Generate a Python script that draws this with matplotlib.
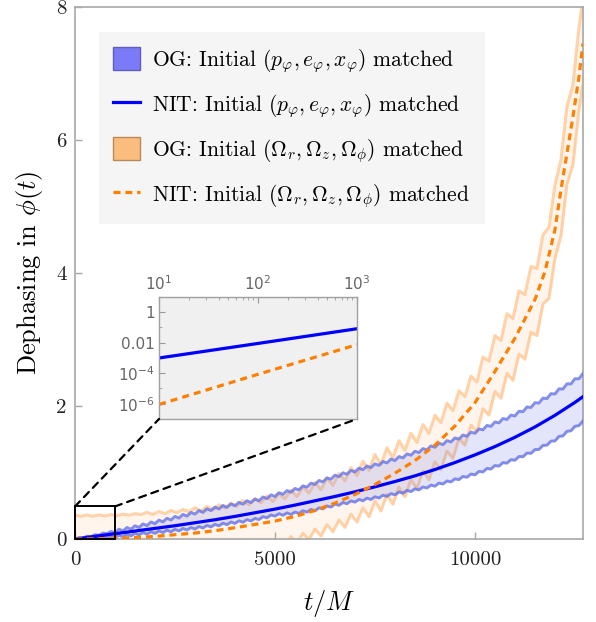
import numpy as np
import matplotlib
matplotlib.use("Agg")
import matplotlib.pyplot as plt
from matplotlib.patches import Patch, Rectangle, ConnectionPatch
from matplotlib.lines import Line2D

# ---------------- data ----------------
# NIT curves
t_blue_nit = [0, 500, 1000, 1500, 2000, 2500, 3000, 3500, 4000, 4500, 5000, 5500,
              6000, 6500, 7000, 7500, 8000, 8500, 9000, 9500, 10000, 10500, 11000,
              11500, 12000, 12500, 12700]
blue_nit = [0, 0.04, 0.08, 0.12, 0.16, 0.20, 0.245, 0.29, 0.34, 0.395, 0.45, 0.51,
            0.575, 0.64, 0.71, 0.785, 0.865, 0.95, 1.045, 1.15, 1.265, 1.39, 1.53,
            1.685, 1.86, 2.055, 2.14]

t_orange_nit = [0, 500, 1000, 1500, 2000, 2500, 3000, 3500, 4000, 4500, 5000, 5500,
                6000, 6500, 7000, 7500, 8000, 8500, 9000, 9500, 10000, 10500, 11000,
                11500, 11750, 12000, 12150, 12300, 12450, 12600, 12700]
orange_nit = [0, 0.003, 0.01, 0.022, 0.04, 0.065, 0.09, 0.125, 0.17, 0.22, 0.27, 0.34,
              0.43, 0.54, 0.67, 0.82, 0.99, 1.18, 1.41, 1.70, 2.05, 2.52, 3.02,
              3.60, 4.02, 4.65, 5.25, 5.80, 6.35, 6.95, 7.45]

# OG bands (sampled every 100 M for blue, every 150 M for orange)
t_blue_band = np.arange(0, 12701, 100)
blue_og_upper = [
    0, 0.021, 0.012, 0.043, 0.034, 0.065, 0.057, 0.089, 0.081, 0.113,
    0.095, 0.148, 0.121, 0.174, 0.147, 0.200, 0.174, 0.228, 0.202, 0.256,
    0.230, 0.284, 0.258, 0.312, 0.286, 0.340, 0.315, 0.370, 0.345, 0.400,
    0.375, 0.428, 0.401, 0.454, 0.427, 0.480, 0.452, 0.504, 0.476, 0.528,
    0.500, 0.552, 0.524, 0.576, 0.548, 0.600, 0.576, 0.632, 0.608, 0.664,
    0.640, 0.696, 0.672, 0.728, 0.704, 0.760, 0.740, 0.800, 0.780, 0.840,
    0.820, 0.880, 0.860, 0.920, 0.900, 0.960, 0.938, 0.996, 0.974, 1.032,
    1.010, 1.066, 1.042, 1.098, 1.074, 1.130, 1.108, 1.166, 1.144, 1.202,
    1.180, 1.240, 1.220, 1.280, 1.260, 1.320, 1.300, 1.360, 1.340, 1.400,
    1.380, 1.440, 1.420, 1.480, 1.460, 1.520, 1.502, 1.564, 1.546, 1.608,
    1.590, 1.656, 1.642, 1.708, 1.694, 1.760, 1.746, 1.812, 1.798, 1.864,
    1.850, 1.922, 1.914, 1.986, 1.978, 2.050, 2.044, 2.118, 2.112, 2.186,
    2.180, 2.258, 2.256, 2.334, 2.332, 2.410, 2.410, 2.490]
blue_og_lower = [
    0, 0.008, 0.001, 0.014, 0.007, 0.025, 0.009, 0.033, 0.017, 0.041,
    0.020, 0.057, 0.034, 0.071, 0.048, 0.085, 0.061, 0.097, 0.073, 0.109,
    0.085, 0.121, 0.097, 0.133, 0.109, 0.145, 0.122, 0.159, 0.136, 0.173,
    0.150, 0.188, 0.166, 0.204, 0.182, 0.220, 0.199, 0.238, 0.217, 0.256,
    0.235, 0.274, 0.253, 0.292, 0.271, 0.310, 0.293, 0.336, 0.319, 0.362,
    0.345, 0.381, 0.357, 0.393, 0.369, 0.405, 0.385, 0.425, 0.405, 0.445,
    0.425, 0.469, 0.453, 0.497, 0.481, 0.525, 0.507, 0.549, 0.531, 0.573,
    0.555, 0.595, 0.575, 0.615, 0.595, 0.635, 0.617, 0.659, 0.641, 0.683,
    0.665, 0.707, 0.689, 0.731, 0.713, 0.755, 0.739, 0.783, 0.767, 0.811,
    0.795, 0.841, 0.827, 0.873, 0.859, 0.905, 0.893, 0.941, 0.929, 0.977,
    0.965, 1.017, 1.009, 1.061, 1.053, 1.105, 1.097, 1.149, 1.141, 1.193,
    1.185, 1.241, 1.237, 1.293, 1.289, 1.345, 1.347, 1.409, 1.411, 1.473,
    1.475, 1.543, 1.551, 1.619, 1.627, 1.695, 1.705, 1.775]

t_orange_band = np.arange(0, 12751, 150)
orange_og_upper = [
    0.360, 0.341, 0.362, 0.343, 0.364, 0.346, 0.369, 0.351, 0.375, 0.358,
    0.382, 0.367, 0.403, 0.368, 0.415, 0.382, 0.430, 0.397, 0.445, 0.412,
    0.470, 0.420, 0.491, 0.441, 0.514, 0.467, 0.541, 0.495, 0.580, 0.515,
    0.610, 0.545, 0.650, 0.565, 0.684, 0.605, 0.736, 0.639, 0.786, 0.693,
    0.850, 0.743, 0.916, 0.809, 0.986, 0.875, 1.074, 0.955, 1.170, 1.035,
    1.270, 1.121, 1.372, 1.223, 1.478, 1.335, 1.592, 1.453, 1.722, 1.591,
    1.860, 1.752, 2.044, 1.931, 2.230, 2.140, 2.450, 2.362, 2.738, 2.674,
    3.060, 2.985, 3.390, 3.315, 3.732, 3.675, 4.098, 4.069, 4.576, 4.687,
    5.320, 5.700, 6.505, 6.830, 7.690, 8.340]
orange_og_lower = [
    -0.340, -0.359, -0.338, -0.357, -0.336, -0.354, -0.331, -0.349, -0.325, -0.342,
    -0.318, -0.333, -0.297, -0.332, -0.285, -0.318, -0.270, -0.303, -0.255, -0.288,
    -0.230, -0.280, -0.209, -0.259, -0.186, -0.233, -0.159, -0.205, -0.120, -0.185,
    -0.090, -0.155, -0.050, -0.135, -0.016, -0.095, 0.036, -0.061, 0.086, -0.007,
    0.150, 0.043, 0.216, 0.109, 0.286, 0.175, 0.374, 0.255, 0.470, 0.335,
    0.570, 0.421, 0.672, 0.523, 0.778, 0.635, 0.892, 0.753, 1.022, 0.891,
    1.160, 1.042, 1.324, 1.211, 1.510, 1.410, 1.710, 1.612, 1.958, 1.864,
    2.220, 2.115, 2.490, 2.385, 2.780, 2.705, 3.110, 3.059, 3.536, 3.617,
    4.220, 4.560, 5.335, 5.630, 6.450, 7.020]

# inset (log-log, early times)
inset_t = [10, 100, 1000]
inset_blue = [1.0e-3, 9.0e-3, 8.3e-2]
inset_orange = [9.0e-7, 8.5e-5, 7.5e-3]

x_ticks = [0, 5000, 10000]
y_ticks = [0, 2, 4, 6, 8]
inset_xticks = [10, 100, 1000]
inset_xticklabels = [r'$10^{1}$', r'$10^{2}$', r'$10^{3}$']
inset_yticks = [1, 1e-2, 1e-4, 1e-6]
inset_yticklabels = ['1', '0.01', r'$10^{-4}$', r'$10^{-6}$']

labels = [r'OG: Initial $(p_\varphi, e_\varphi, x_\varphi)$ matched',
          r'NIT: Initial $(p_\varphi, e_\varphi, x_\varphi)$ matched',
          r'OG: Initial $(\Omega_r, \Omega_z, \Omega_\phi)$ matched',
          r'NIT: Initial $(\Omega_r, \Omega_z, \Omega_\phi)$ matched']

# ---------------- style ----------------
plt.rcParams['font.family'] = 'serif'
plt.rcParams['font.serif'] = ['cmr10', 'DejaVu Serif']
plt.rcParams['mathtext.fontset'] = 'cm'
plt.rcParams['axes.formatter.use_mathtext'] = True

BLUE = '#0000ff'
ORANGE = '#ff8000'
SPINE = '#a8a8a8'

fig = plt.figure(figsize=(5.96, 6.22), dpi=100)
ax = fig.add_axes([0.1258, 0.1334, 0.8523, 0.8553])

# orange OG band
ax.fill_between(t_orange_band, orange_og_lower, orange_og_upper,
                color='#ff8a1a', alpha=0.08, lw=0, zorder=1)
ax.plot(t_orange_band, orange_og_upper, color='#ffb066', alpha=0.55, lw=2.2, zorder=2)
ax.plot(t_orange_band, orange_og_lower, color='#ffb066', alpha=0.55, lw=2.2, zorder=2)
# blue OG band
ax.fill_between(t_blue_band, blue_og_lower, blue_og_upper,
                color='#6673e6', alpha=0.18, lw=0, zorder=3)
ax.plot(t_blue_band, blue_og_upper, color='#6673e6', alpha=0.8, lw=2.1, zorder=4)
ax.plot(t_blue_band, blue_og_lower, color='#6673e6', alpha=0.8, lw=2.1, zorder=4)
# NIT lines
ax.plot(t_blue_nit, blue_nit, color=BLUE, lw=2.3, zorder=6)
ax.plot(t_orange_nit, orange_nit, color=ORANGE, lw=2.3, dashes=(2.2, 1.5), zorder=7)

ax.set_xlim(0, 12700)
ax.set_ylim(0, 8)
ax.set_xticks(x_ticks, [str(v) for v in x_ticks])
ax.set_yticks(y_ticks, [str(v) for v in y_ticks])
ax.tick_params(direction='in', length=5, width=1, color=SPINE, labelsize=15,
               labelcolor='#222222')
ax.tick_params(axis='x', pad=9)
ax.tick_params(axis='y', pad=6)
for s in ax.spines.values():
    s.set_color(SPINE)
    s.set_linewidth(1.2)
ax.set_xlabel(r'$t/M$', fontsize=19, labelpad=13)
ax.set_ylabel(r'Dephasing in $\phi(t)$', fontsize=19, labelpad=8)

# zoom rectangle
ax.add_patch(Rectangle((0, 0), 1000, 0.49, fill=False, ec='k', lw=1.4, zorder=8,
                       clip_on=False))

# legend
handles = [Patch(facecolor='#7b7bf7', edgecolor='#5f5fb8', lw=1.0),
           Line2D([], [], color=BLUE, lw=2.3),
           Patch(facecolor='#fbbd7e', edgecolor='#b88a5a', lw=1.0),
           Line2D([], [], color=ORANGE, lw=2.3, dashes=(2.2, 1.5))]
leg = ax.legend(handles, labels, loc='upper left', bbox_to_anchor=(0.047, 0.953),
                borderaxespad=0, fontsize=15.5, frameon=True, fancybox=False,
                facecolor='#f5f5f5', edgecolor='none', framealpha=1,
                handlelength=1.25, handleheight=1.25, handletextpad=0.55,
                labelspacing=0.8, borderpad=0.68)
leg.set_zorder(10)

# inset
axin = fig.add_axes([0.2668, 0.3264, 0.3322, 0.1961])
axin.set_facecolor('#f0f0f0')
axin.set_xscale('log')
axin.set_yscale('log')
axin.plot(inset_t, inset_blue, color=BLUE, lw=2.3)
axin.plot(inset_t, inset_orange, color=ORANGE, lw=2.3, dashes=(2.2, 1.6))
axin.set_xlim(10, 1000)
axin.set_ylim(1e-7, 10)
axin.set_xticks(inset_xticks)
axin.set_xticklabels(inset_xticklabels, fontfamily='DejaVu Sans',
                     math_fontfamily='dejavusans')
axin.set_xticks([v * m for v in (10, 100) for m in range(2, 10)], minor=True)
axin.set_yticks(inset_yticks)
axin.set_yticklabels(inset_yticklabels, fontfamily='DejaVu Sans',
                     math_fontfamily='dejavusans')
axin.set_yticks([10, 0.1, 1e-3, 1e-5, 1e-7], minor=True)
axin.yaxis.set_minor_formatter(plt.NullFormatter())
axin.xaxis.set_minor_formatter(plt.NullFormatter())
axin.tick_params(which='both', direction='in', color='#999999', labelsize=11,
                 labelcolor='#666666', top=True, bottom=False, labeltop=True,
                 labelbottom=False, left=True, right=False)
axin.tick_params(which='major', length=4, width=0.8, pad=3)
axin.tick_params(which='minor', length=2.5, width=0.6)
for s in axin.spines.values():
    s.set_color('#a0a0a0')
    s.set_linewidth(1.0)

# connectors
for xa, xb in [(0, 0), (1000, 1)]:
    con = ConnectionPatch(xyA=(xa, 0.49), coordsA=ax.transData,
                          xyB=(xb, 0), coordsB=axin.transAxes,
                          color='k', lw=1.6, linestyle=(0, (3.2, 2.6)), zorder=9)
    fig.add_artist(con)

fig.savefig('out.png', dpi=100)
